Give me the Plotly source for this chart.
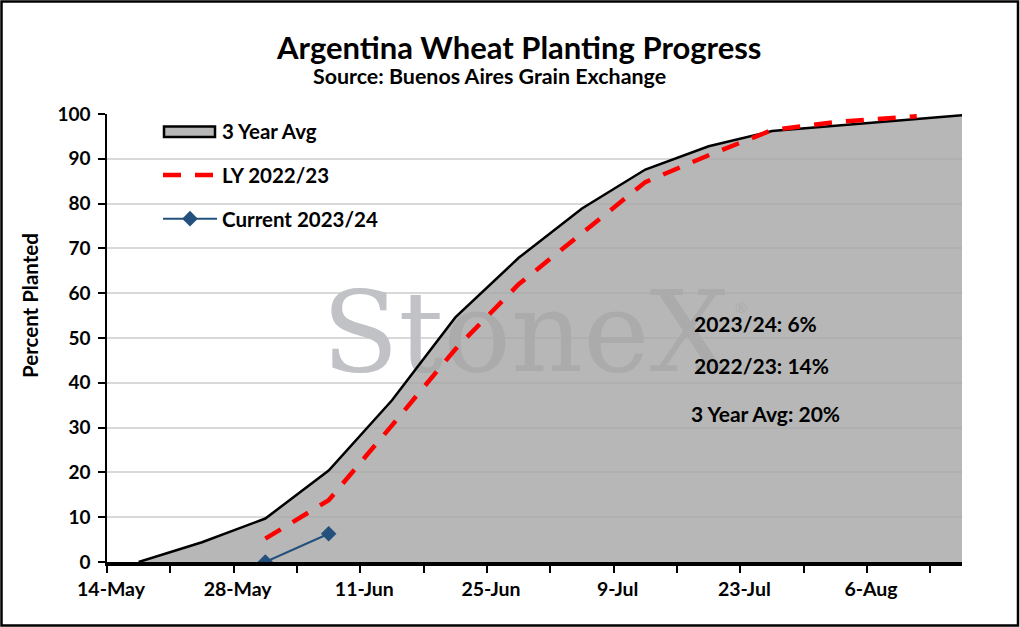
import plotly.graph_objects as go

# ------------------------------
# Data (weekly report dates, % planted)
# ------------------------------
AVG_DATES = [
    "2023-05-17 12:00", "2023-05-24 12:00", "2023-05-31 12:00", "2023-06-07 12:00",
    "2023-06-14 12:00", "2023-06-21 12:00", "2023-06-28 12:00", "2023-07-05 12:00",
    "2023-07-12 12:00", "2023-07-19 12:00", "2023-07-26 12:00", "2023-08-02 12:00",
    "2023-08-09 12:00", "2023-08-16 12:00",
]
AVG_PCT = [0, 4.4, 9.7, 20.4, 36.1, 54.6, 67.9, 78.9, 87.6, 92.8, 96.2, 97.4, 98.6, 99.7]

LY_DATES = [
    "2023-05-31 12:00", "2023-06-07 12:00", "2023-06-14 12:00", "2023-06-21 12:00",
    "2023-06-28 12:00", "2023-07-05 12:00", "2023-07-12 12:00", "2023-07-19 12:00",
    "2023-07-26 12:00", "2023-08-02 12:00", "2023-08-11 12:00",
]
LY_PCT = [5.2, 13.8, 30.5, 47.5, 62.0, 73.5, 84.8, 90.8, 96.4, 98.2, 99.5]

CUR_DATES = ["2023-05-31 12:00", "2023-06-07 12:00"]
CUR_PCT = [0, 6.3]

NOTES = ["2023/24: 6%", "2022/23: 14%", "3 Year Avg: 20%"]

X_START = "2023-05-14"
X_END = "2023-08-16 12:00"
WEEK_MS = 7 * 86400000

FONT = "Lato"
AVG_GRAY = "rgba(165,165,165,0.8)"
MARK_GRAY = "rgb(192,194,198)"

# plot area in pixels (1020 x 627 canvas)
ML, MR, MT, MB = 107, 58, 114, 65
PW = 1020 - ML - MR
PH = 627 - MT - MB


def px(x):
    return (x - ML) / PW


def py(y):
    return 1 - (y - MT) / PH


fig = go.Figure()

# watermark, drawn first so the semi-transparent fill sits over it
fig.add_trace(go.Scatter(
    x=["2023-06-06 18:00"], y=[48.8],
    mode="text", text=["StoneX"], textposition="middle right",
    textfont=dict(family="DejaVu Serif", size=112, color=MARK_GRAY),
    showlegend=False, hoverinfo="skip",
))
fig.add_trace(go.Scatter(
    x=["2023-07-22 06:00"], y=[56.5],
    mode="text", text=["®"], textposition="middle right",
    textfont=dict(family="DejaVu Serif", size=15, color=MARK_GRAY),
    showlegend=False, hoverinfo="skip",
))

fig.add_trace(go.Scatter(
    x=AVG_DATES, y=AVG_PCT, name="3 Year Avg",
    mode="lines", fill="tozeroy", fillcolor=AVG_GRAY,
    line=dict(color="black", width=2.5),
    showlegend=False,
))
# legend entry only; its swatch is the boxed shape below
fig.add_trace(go.Scatter(
    x=[None], y=[None], name="3 Year Avg",
    mode="lines", line=dict(color="rgba(0,0,0,0)", width=1),
    legendgroup="a",
))

fig.add_trace(go.Scatter(
    x=LY_DATES, y=LY_PCT, name="LY 2022/23",
    mode="lines",
    line=dict(color="#ff0000", width=4.5, dash="18px,14px"),
    legendgroup="b",
))

fig.add_trace(go.Scatter(
    x=CUR_DATES, y=CUR_PCT, name="Current 2023/24",
    mode="lines+markers",
    line=dict(color="#23507c", width=2),
    marker=dict(symbol="diamond", size=12, color="#23507c"),
    legendgroup="c",
))

# ------------------------------
# Text
# ------------------------------
annotations = [
    dict(text="<b>Argentina Wheat Planting Progress</b>", x=px(518.5), y=py(47),
         font=dict(size=31)),
    dict(text="<b>Source: Buenos Aires Grain Exchange</b>", x=px(489.5), y=py(76),
         font=dict(size=21.4)),
    dict(text="<b>Percent Planted</b>", x=px(30), y=py(306), textangle=-90,
         font=dict(size=20.5)),
]
for note, xl, yc in zip(NOTES, [692, 692, 689], [323.5, 365, 413]):
    annotations.append(dict(text="<b>" + note + "</b>", x=px(xl), y=py(yc),
                            xanchor="left", font=dict(size=21)))
for a in annotations:
    a.setdefault("xanchor", "center")
    a.update(xref="paper", yref="paper", yanchor="middle", showarrow=False)
    a["font"].update(family=FONT, color="black")

fig.update_layout(
    width=1020, height=627,
    margin=dict(l=ML, r=MR, t=MT, b=MB),
    paper_bgcolor="white", plot_bgcolor="white",
    font=dict(family=FONT, color="black"),
    annotations=annotations,
    showlegend=True,
    legend=dict(
        x=px(158), y=py(111.5), xanchor="left", yanchor="top",
        font=dict(family=FONT, size=20.5, color="black", weight="bold"),
        bgcolor="rgba(0,0,0,0)", tracegroupgap=14,
        itemwidth=54,
    ),
    shapes=[
        dict(type="rect", xref="paper", yref="paper",
             x0=px(1.5), x1=px(1018), y0=py(625.5), y1=py(1.5),
             line=dict(color="black", width=2.5)),
        dict(type="rect", xref="paper", yref="paper",
             x0=px(164), x1=px(215), y0=py(137), y1=py(126.5),
             fillcolor="#b7b7b7", line=dict(color="black", width=2.5)),
    ],
)

fig.update_xaxes(
    type="date",
    range=[X_START, X_END],
    tickmode="linear", tick0=X_START, dtick=2 * WEEK_MS,
    tickformat="%-d-%b",
    ticks="outside", ticklen=7, tickwidth=2, tickcolor="black",
    ticklabelshift=4,
    tickfont=dict(family=FONT, size=19.5, color="black", weight="bold"),
    minor=dict(ticks="outside", tick0=X_START, dtick=WEEK_MS, ticklen=7,
               tickwidth=2, tickcolor="black", showgrid=False),
    showline=True, linecolor="black", linewidth=3.5,
    showgrid=False, zeroline=False,
)

fig.update_yaxes(
    range=[0, 100], dtick=10,
    ticks="outside", ticklen=7, tickwidth=1.5, tickcolor="black",
    ticklabelstandoff=4,
    tickfont=dict(family=FONT, size=19, color="black", weight="bold"),
    showline=True, linecolor="black", linewidth=1.5,
    showgrid=True, gridcolor="#d9d9d9", gridwidth=1.5,
    zeroline=False,
)

fig.write_html("out.html", config={"displayModeBar": False},
               post_script="document.body.style.margin='0px';")
